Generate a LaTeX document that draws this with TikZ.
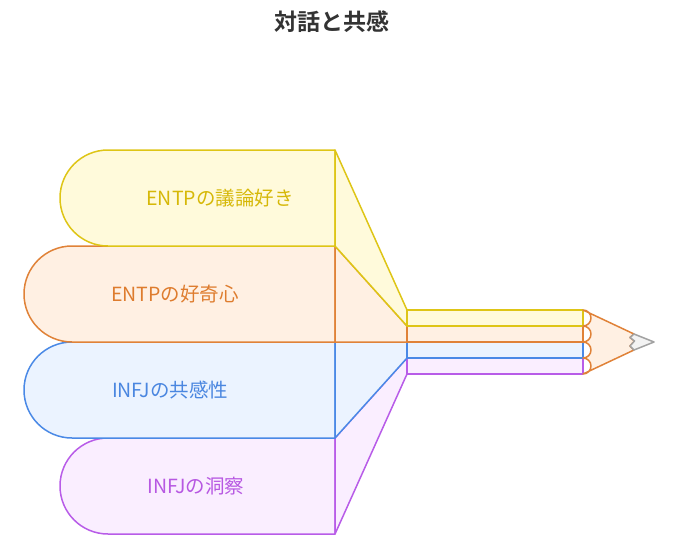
\documentclass[tikz,border=0pt]{standalone}
\usepackage{fontspec}
\setmainfont{Noto Sans CJK JP}[BoldFont={Noto Sans CJK JP Bold}]
\usepackage{tikz}
\definecolor{yelline}{RGB}{222,197,22}
\definecolor{yelfill}{RGB}{255,250,219}
\definecolor{yeltext}{RGB}{214,184,8}
\definecolor{orgline}{RGB}{224,130,56}
\definecolor{orgfill}{RGB}{255,240,227}
\definecolor{orgtext}{RGB}{222,124,46}
\definecolor{bluline}{RGB}{74,137,230}
\definecolor{blufill}{RGB}{235,243,255}
\definecolor{blutext}{RGB}{74,134,224}
\definecolor{purline}{RGB}{184,92,232}
\definecolor{purfill}{RGB}{250,238,255}
\definecolor{purtext}{RGB}{183,88,226}
\definecolor{tipline}{RGB}{162,162,162}
\definecolor{tipfill}{RGB}{243,243,243}
\definecolor{titletext}{RGB}{51,51,51}

\begin{document}
\begin{tikzpicture}[x=1pt, y=-1pt,
	part/.style={line width=1.5pt, line join=round},
	yelpart/.style={part, draw=yelline, fill=yelfill},
	orgpart/.style={part, draw=orgline, fill=orgfill},
	blupart/.style={part, draw=bluline, fill=blufill},
	purpart/.style={part, draw=purline, fill=purfill},
	label/.style={font=\fontsize{19.5}{19.5}\selectfont}]
			%%%%% START %%%%%
			
			\useasboundingbox (0, 0) rectangle (678, 547);
			
			\node[font=\bfseries\fontsize{23}{23}\selectfont, text=titletext] (title) at (332, 22) {対話と共感};
			
			% purple: INFJ insight
			\draw[purpart] (108, 534) -- (335, 534) -- (335, 438) -- (108, 438) arc (270:90:48) -- cycle;
			\draw[purpart] (335, 438) -- (407, 358) -- (407, 374) -- (335, 534) -- cycle;
			\draw[purpart] (407, 358) rectangle (583, 374);
			
			% blue: INFJ empathy
			\draw[blupart] (72, 438) -- (335, 438) -- (335, 342) -- (72, 342) arc (270:90:48) -- cycle;
			\draw[blupart] (335, 342) -- (407, 342) -- (407, 358) -- (335, 438) -- cycle;
			\draw[blupart] (407, 342) rectangle (583, 358);
			
			% orange: ENTP curiosity
			\draw[orgpart] (72, 342) -- (335, 342) -- (335, 246) -- (72, 246) arc (270:90:48) -- cycle;
			\draw[orgpart] (335, 246) -- (407, 326) -- (407, 342) -- (335, 342) -- cycle;
			\draw[orgpart] (407, 326) rectangle (583, 342);
			
			% yellow: ENTP debate
			\draw[yelpart] (108, 246) -- (335, 246) -- (335, 150) -- (108, 150) arc (270:90:48) -- cycle;
			\draw[yelpart] (335, 150) -- (407, 310) -- (407, 326) -- (335, 246) -- cycle;
			\draw[yelpart] (407, 310) rectangle (583, 326);
			
			% pencil tip
			\draw[orgpart] (583, 310) -- (634, 334) -- (630, 337.5) -- (634.5, 341) -- (630, 346) -- (634, 350) -- (583, 374)
				arc (90:-90:8) arc (90:-90:8) arc (90:-90:8) arc (90:-90:8) -- cycle;
			\draw[part, draw=tipline, fill=tipfill] (634, 334) -- (654, 342) -- (634, 350) -- (630, 346) -- (634.5, 341) -- (630, 337.5) -- cycle;
			
			\node[label, text=yeltext] (yelLabel) at (220, 198) {ENTPの議論好き};
			\node[label, text=orgtext] (orgLabel) at (175, 294) {ENTPの好奇心};
			\node[label, text=blutext] (bluLabel) at (170, 390) {INFJの共感性};
			\node[label, text=purtext] (purLabel) at (196, 486) {INFJの洞察};
			
			%%%%% END %%%%%
\end{tikzpicture}
\end{document}
